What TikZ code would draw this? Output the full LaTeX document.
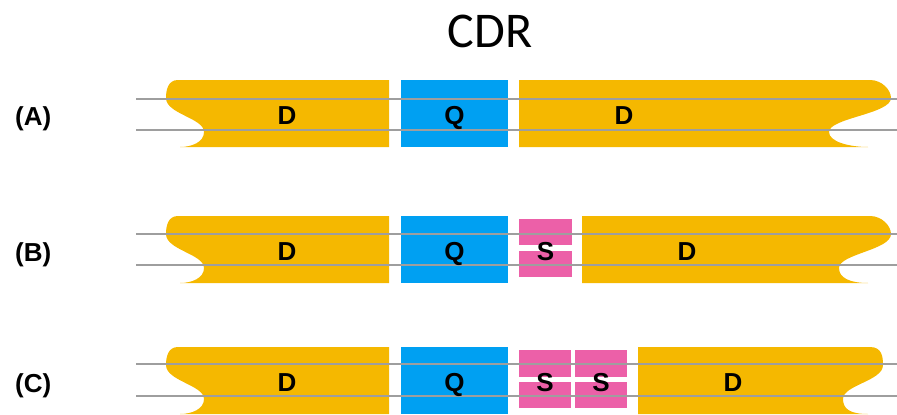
\documentclass[tikz,border=0pt]{standalone}
\usepackage{fontspec}
\setmainfont{Liberation Sans}
\newfontfamily\titlefont{Carlito}
\usetikzlibrary{positioning}

\definecolor{dyellow}{RGB}{245,184,0}
\definecolor{qblue}{RGB}{0,160,242}
\definecolor{spink}{RGB}{236,96,168}
\definecolor{wiregray}{RGB}{158,158,158}

% left data block with the wavy tail, row top at y=0
\newcommand{\dleft}{%
  \fill[dseg] (178,0) .. controls (168,0) and (166,10) .. (166,18)
    .. controls (166,34) and (204,38) .. (204,52)
    .. controls (204,62) and (192,67) .. (180,67)
    -- (389,67) -- (389,0) -- cycle;}
% right data block: #1 start, #2 bulge, #3 notch
\newcommand{\dright}[3]{%
  \fill[dseg] (#1,0) -- (870,0) .. controls (882,0) and (#2,10) .. (#2,18)
    .. controls (#2,34) and (#3,38) .. (#3,52)
    .. controls (#3,62) and (850,67) .. (868,67)
    -- (#1,67) -- cycle;}

\begin{document}
\begin{tikzpicture}[
  x=1pt, y=-1pt,
  dseg/.style={fill=dyellow},
  qseg/.style={fill=qblue},
  sseg/.style={fill=spink},
  wire/.style={draw=wiregray, line width=2.6pt},
  seglabel/.style={font=\bfseries\fontsize{26}{30}\selectfont, anchor=base, inner sep=0pt},
  rowlabel/.style={font=\bfseries\fontsize{26}{30}\selectfont, anchor=base west, inner sep=0pt}
]
\useasboundingbox (0,0) rectangle (897,415);

\node[font=\titlefont\fontsize{50}{56}\selectfont, anchor=base, inner sep=0pt] (title) at (490,47) {CDR};

% (A) plain
\begin{scope}[shift={(0,80)}]
  \dleft
  \fill[qseg] (401,0) rectangle (508,67);
  \dright{519}{891}{829}
  \draw[wire] (136,19) -- (897,19);
  \draw[wire] (136,50) -- (897,50);
  \node[rowlabel] (la) at (15,45) {(A)};
  \node[seglabel] (d1a) at (287,44) {D};
  \node[seglabel] (qa) at (454.5,44) {Q};
  \node[seglabel] (d2a) at (624,44) {D};
\end{scope}

% (B) one S
\begin{scope}[shift={(0,216)}]
  \dleft
  \fill[qseg] (401,0) rectangle (508,67);
  \fill[sseg] (519,3) rectangle (572,29);
  \fill[sseg] (519,35) rectangle (572,61);
  \dright{582}{891}{839}
  \draw[wire] (136,18) -- (897,18);
  \draw[wire] (136,49) -- (897,49);
  \node[rowlabel] (lb) at (15,45) {(B)};
  \node[seglabel] (d1b) at (287,44) {D};
  \node[seglabel] (qb) at (454.5,44) {Q};
  \node[seglabel] (sb) at (545.5,44) {S};
  \node[seglabel] (d2b) at (687,44) {D};
\end{scope}

% (C) two S
\begin{scope}[shift={(0,347)}]
  \dleft
  \fill[qseg] (401,0) rectangle (508,67);
  \fill[sseg] (519,3) rectangle (571,30);
  \fill[sseg] (519,35) rectangle (571,61);
  \fill[sseg] (575,3) rectangle (627,30);
  \fill[sseg] (575,35) rectangle (627,61);
  \dright{638}{883}{843}
  \draw[wire] (136,17) -- (897,17);
  \draw[wire] (136,49) -- (897,49);
  \node[rowlabel] (lc) at (15,45) {(C)};
  \node[seglabel] (d1c) at (287,44) {D};
  \node[seglabel] (qc) at (454.5,44) {Q};
  \node[seglabel] (sc1) at (545,44) {S};
  \node[seglabel] (sc2) at (601,44) {S};
  \node[seglabel] (d2c) at (733,44) {D};
\end{scope}

\end{tikzpicture}
\end{document}
